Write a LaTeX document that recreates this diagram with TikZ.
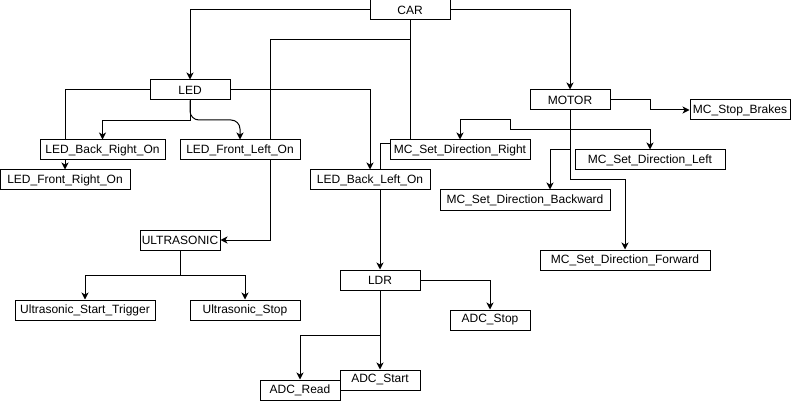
\documentclass[tikz,border=0pt]{standalone}
\usepackage{fontspec}
\setmainfont{Liberation Sans}
\usetikzlibrary{arrows.meta,backgrounds}
\begin{document}
\begin{tikzpicture}[x=1pt,y=-1pt,
  box/.style={draw=black,fill=white,line width=1pt,inner sep=0pt,minimum height=20pt,font=\fontsize{12}{14}\selectfont},
  arr/.style={line width=1pt,-{Stealth[length=7pt,width=7pt,inset=2pt]}},
  ln/.style={line width=1pt}]
\useasboundingbox (0,0) rectangle (801,401);
\node[box,minimum width=80pt] (car) at (410,10) {CAR};
\node[box,minimum width=80pt] (led) at (190,90) {LED};
\node[box,minimum width=80pt] (motor) at (570,100) {MOTOR};
\node[box,minimum width=100pt] (msb) at (740,110) {MC\_Stop\_Brakes};
\node[box,minimum width=140pt] (msdr) at (460,150) {MC\_Set\_Direction\_Right};
\node[box,minimum width=150pt] (msdl) at (650,160) {MC\_Set\_Direction\_Left};
\node[box,minimum width=170pt] (msdb) at (525,200) {MC\_Set\_Direction\_Backward};
\node[box,minimum width=170pt] (msdf) at (625,260) {MC\_Set\_Direction\_Forward};
\node[box,minimum width=125pt] (lbr) at (102.5,150) {LED\_Back\_Right\_On};
\node[box,minimum width=120pt] (lfl) at (240,150) {LED\_Front\_Left\_On};
\node[box,minimum width=130pt] (lfr) at (65,180) {LED\_Front\_Right\_On};
\node[box,minimum width=120pt] (lbl) at (370,180) {LED\_Back\_Left\_On};
\node[box,minimum width=80pt] (ultra) at (180,240) {ULTRASONIC};
\node[box,minimum width=140pt] (ust) at (85,310) {Ultrasonic\_Start\_Trigger};
\node[box,minimum width=110pt] (usp) at (245,310) {Ultrasonic\_Stop};
\node[box,minimum width=80pt] (ldr) at (380,280) {LDR};
\node[box,minimum width=80pt] (adcstop) at (490,320) {ADC\_Stop};
\node[box,minimum width=80pt] (adcstart) at (380,380) {ADC\_Start};
\node[box,minimum width=80pt] (adcread) at (300,390) {ADC\_Read};
\begin{pgfonlayer}{background}
\draw[arr] (car.west) -| (led.north);
\draw[arr] (car.east) -| (motor.north);
\draw[arr] (car.south) -- (410,40) -- (270,40) |- (ultra.east);
\draw[arr] (car.south) -- (410,144) -| (ldr.north);
\draw[arr] (led.west) -| (lfr.north);
\draw[arr] (led.south) -- ++(0,20) -| (lbr.north);
\draw[arr,rounded corners=9pt] (led.south) -- (190,120) -- (240,120) -- (lfl.north);
\draw[arr] (led.east) -| (lbl.north);
\draw[arr] (motor.east) -- (650,100) |- (msb.west);
\draw[arr] (motor.south) -- (570,130) -- (510,130) -- (510,120) -| (msdr.north);
\draw[arr] (motor.south) -- (570,130) -| (msdl.north);
\draw[arr] (motor.south) -- (570,150) -| ([xshift=25pt]msdb.north);
\draw[arr] (motor.south) -- (570,180) -| (msdf.north);
\draw[arr] (ultra.south) -- ++(0,25) -| (ust.north);
\draw[arr] (ultra.south) -- ++(0,25) -| (usp.north);
\draw[arr] (ldr.east) -| (adcstop.north);
\draw[arr] (ldr.south) -- (adcstart.north);
\draw[arr] (ldr.south) -- ++(0,45) -| (adcread.north);
\end{pgfonlayer}
\end{tikzpicture}
\end{document}
